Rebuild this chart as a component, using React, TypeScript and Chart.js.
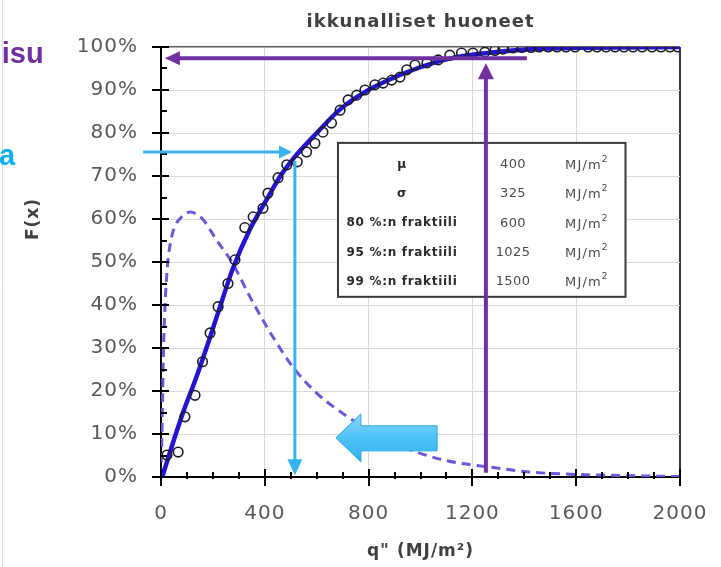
import React, { useEffect, useRef } from 'react';
import { Chart, registerables } from 'chart.js';

Chart.register(...registerables);

// ---------- texts ----------
const TITLE = 'ikkunalliset huoneet';
const X_TITLE = 'q" (MJ/m²)';
const Y_TITLE = 'F(x)';
const SIDE_TEXT_1 = 'nisu';
const SIDE_TEXT_2 = 'a';

// ---------- axes ----------
const xTickValues = [0, 400, 800, 1200, 1600, 2000];
const yTickPercent = [0, 10, 20, 30, 40, 50, 60, 70, 80, 90, 100];

// ---------- data ----------
// empirical points (circles)
const sampleX = [23, 66, 92, 131, 160, 189, 220, 258, 285, 323, 355, 393, 412, 451, 485, 525, 561, 593, 624, 657, 690, 721, 754, 786, 824, 856, 889, 921, 947, 979, 1025, 1068, 1113, 1158, 1202, 1248, 1287, 1318, 1356, 1391, 1426, 1457, 1492, 1526, 1561, 1596, 1646, 1680, 1715, 1750, 1784, 1819, 1854, 1892, 1927, 1961, 1992];
const sampleY = [5.1, 5.8, 14, 19, 26.8, 33.5, 39.6, 45, 50.5, 58, 60.5, 62.5, 66, 69.6, 72.6, 73.3, 75.6, 77.6, 80.2, 82.3, 85.3, 87.7, 88.8, 90, 91.2, 91.6, 92.3, 93, 94.7, 95.8, 96.3, 97, 98.1, 98.6, 98.6, 98.8, 99.2, 99.5, 99.8, 99.9, 99.9, 100, 100, 100, 100, 100, 100, 100, 100, 100, 100, 100, 100, 100, 100, 100, 100];

// fitted cumulative distribution (solid line)
const cdfX = [5, 40, 85, 138, 189, 235, 277, 342, 407, 460, 509, 600, 690, 793, 895, 985, 1113, 1241, 1433, 1600, 2000];
const cdfY = [0, 6.8, 15, 23.5, 32.5, 41, 48.5, 57.5, 64.5, 70, 74, 80, 85.5, 89.8, 92.8, 95, 97.3, 98.5, 99.5, 99.8, 100];

// density (dashed line, scaled)
const pdfX = [0, 3, 6, 9, 14, 20, 28, 46, 80, 112, 160, 215, 273, 342, 407, 431, 508, 600, 700, 800, 900, 985, 1100, 1200, 1280, 1410, 1600, 1800, 2000];
const pdfY = [0, 8, 18, 28, 38, 45, 51, 57, 60.5, 61.6, 60, 55, 50, 42, 35, 32.6, 25.6, 19.5, 14.8, 11, 8, 5.8, 3.8, 2.8, 2.2, 1.2, 0.6, 0.3, 0.1];

// parameter table
const tableLabels = ['μ', 'σ', '80 %:n fraktiili', '95 %:n fraktiili', '99 %:n fraktiili'];
const tableValues = ['400', '325', '600', '1025', '1500'];
const tableUnit = 'MJ/m';
const tableUnitSup = '2';

// ---------- annotation placement (data units) ----------
const TABLE_BOX = { x0: 682, x1: 1790, y0: 0.777, y1: 0.419 };
const CYAN_H = { xFrom: -69, xTo: 505, y: 0.756 };
const CYAN_V = { x: 516, yFrom: 0.735, yTo: 0.004 };
const PURPLE_H = { xFrom: 1410, xTo: 15, y: 0.974 };
const PURPLE_V = { x: 1252, yFrom: 0.01, yTo: 0.962 };
const BLOCK_ARROW = { xTip: 674, xBack: 1064, y: 0.091 };

const X_MINOR_STEP = 100;
const Y_MINOR_STEP = 0.05;

const CYAN = '#36b3f2';
const PURPLE = '#7030a0';

function arrow(ctx: CanvasRenderingContext2D, x1: number, y1: number, x2: number, y2: number, color: string, width: number, headLen: number, headHalf: number) {
  const dx = x2 - x1, dy = y2 - y1;
  const len = Math.hypot(dx, dy);
  const ux = dx / len, uy = dy / len;
  const bx = x2 - ux * headLen, by = y2 - uy * headLen;
  ctx.save();
  ctx.strokeStyle = color;
  ctx.fillStyle = color;
  ctx.lineWidth = width;
  ctx.lineCap = 'butt';
  ctx.beginPath();
  ctx.moveTo(x1, y1);
  ctx.lineTo(bx + ux * 1, by + uy * 1);
  ctx.stroke();
  ctx.beginPath();
  ctx.moveTo(x2, y2);
  ctx.lineTo(bx - uy * headHalf, by + ux * headHalf);
  ctx.lineTo(bx + uy * headHalf, by - ux * headHalf);
  ctx.closePath();
  ctx.fill();
  ctx.restore();
}

const overlay = {
  id: 'overlay',
  beforeDraw(chart: any) {
    (chart.ctx as any).letterSpacing = '1px';
  },
  afterDatasetsDraw(chart: any) {
    const ctx: CanvasRenderingContext2D = chart.ctx;
    const { x, y } = chart.scales;
    const area = chart.chartArea;
    ctx.save();
    (ctx as any).letterSpacing = '0px';

    // axis tick marks (major crossing, minor inward)
    ctx.strokeStyle = '#000';
    ctx.lineWidth = 2;
    ctx.beginPath();
    for (let v = x.min; v <= x.max + 0.001; v += X_MINOR_STEP) {
      const px = Math.round(x.getPixelForValue(v));
      const major = xTickValues.indexOf(v) >= 0;
      ctx.moveTo(px, major ? area.bottom + 9 : area.bottom + 2);
      ctx.lineTo(px, major ? area.bottom - 8 : area.bottom - 5);
    }
    for (let v = y.min; v <= y.max + 0.0001; v += Y_MINOR_STEP) {
      const py = Math.round(y.getPixelForValue(v));
      const major = Math.abs(Math.round(v * 10) - v * 10) < 0.001;
      ctx.moveTo(major ? area.left - 9 : area.left - 1, py);
      ctx.lineTo(major ? area.left + 8 : area.left + 6, py);
    }
    ctx.stroke();

    // parameter table
    const bx0 = x.getPixelForValue(TABLE_BOX.x0);
    const bx1 = x.getPixelForValue(TABLE_BOX.x1);
    const by0 = y.getPixelForValue(TABLE_BOX.y0);
    const by1 = y.getPixelForValue(TABLE_BOX.y1);
    ctx.fillStyle = '#ffffff';
    ctx.fillRect(bx0, by0, bx1 - bx0, by1 - by0);
    ctx.strokeStyle = '#3a3a3a';
    ctx.lineWidth = 2;
    ctx.strokeRect(bx0, by0, bx1 - bx0, by1 - by0);
    const rowH = (by1 - by0) / 5.27;
    ctx.textBaseline = 'middle';
    for (let i = 0; i < tableLabels.length; i++) {
      const ry = by0 + 22 + i * rowH;
      ctx.textAlign = 'center';
      ctx.fillStyle = '#2a2a2a';
      ctx.font = 'bold 12px "DejaVu Sans"';
      (ctx as any).letterSpacing = '0.7px';
      ctx.fillText(tableLabels[i], bx0 + 64, ry);
      ctx.font = '13px "DejaVu Sans"';
      ctx.fillStyle = '#4a4a4a';
      (ctx as any).letterSpacing = '0.4px';
      ctx.fillText(tableValues[i], bx0 + 175, ry);
      ctx.textAlign = 'left';
      ctx.font = '13px "DejaVu Sans"';
      (ctx as any).letterSpacing = '1.2px';
      ctx.fillText(tableUnit, bx0 + 227, ry + 1);
      const w = ctx.measureText(tableUnit).width;
      ctx.font = '9px "DejaVu Sans"';
      (ctx as any).letterSpacing = '0px';
      ctx.fillText(tableUnitSup, bx0 + 227 + w, ry - 5);
    }

    // arrows
    arrow(ctx, x.getPixelForValue(CYAN_H.xFrom), y.getPixelForValue(CYAN_H.y), x.getPixelForValue(CYAN_H.xTo), y.getPixelForValue(CYAN_H.y), CYAN, 3, 13, 6.5);
    arrow(ctx, x.getPixelForValue(CYAN_V.x), y.getPixelForValue(CYAN_V.yFrom), x.getPixelForValue(CYAN_V.x), y.getPixelForValue(CYAN_V.yTo), CYAN, 3, 16, 7.5);
    arrow(ctx, x.getPixelForValue(PURPLE_H.xFrom), y.getPixelForValue(PURPLE_H.y), x.getPixelForValue(PURPLE_H.xTo), y.getPixelForValue(PURPLE_H.y), PURPLE, 4, 15, 7);
    arrow(ctx, x.getPixelForValue(PURPLE_V.x), y.getPixelForValue(PURPLE_V.yFrom), x.getPixelForValue(PURPLE_V.x), y.getPixelForValue(PURPLE_V.yTo), PURPLE, 4, 16, 8);

    // block arrow
    const tx = x.getPixelForValue(BLOCK_ARROW.xTip);
    const tb = x.getPixelForValue(BLOCK_ARROW.xBack);
    const ty = y.getPixelForValue(BLOCK_ARROW.y);
    const headBack = tx + 25;
    const grad = ctx.createLinearGradient(0, ty - 24, 0, ty + 24);
    grad.addColorStop(0, '#8ad8fb');
    grad.addColorStop(0.5, '#4ec3f6');
    grad.addColorStop(1, '#2fb2ef');
    ctx.beginPath();
    ctx.moveTo(tx, ty);
    ctx.lineTo(headBack, ty - 24);
    ctx.lineTo(headBack, ty - 12);
    ctx.lineTo(tb, ty - 12);
    ctx.lineTo(tb, ty + 13);
    ctx.lineTo(headBack, ty + 13);
    ctx.lineTo(headBack, ty + 24);
    ctx.closePath();
    ctx.fillStyle = grad;
    ctx.fill();
    ctx.strokeStyle = '#2aa6e6';
    ctx.lineWidth = 1;
    ctx.stroke();

    ctx.restore();
  },
  afterDraw(chart: any) {
    const ctx: CanvasRenderingContext2D = chart.ctx;
    const area = chart.chartArea;
    ctx.save();
    // slide edge line
    ctx.strokeStyle = '#dcdcdc';
    ctx.lineWidth = 1;
    ctx.beginPath();
    ctx.moveTo(2.5, 0);
    ctx.lineTo(2.5, chart.height);
    ctx.stroke();

    // title
    ctx.fillStyle = '#404040';
    ctx.font = 'bold 18px "DejaVu Sans"';
    (ctx as any).letterSpacing = '1px';
    ctx.textAlign = 'center';
    ctx.textBaseline = 'alphabetic';
    ctx.fillText(TITLE, (area.left + area.right) / 2, 27);

    // y title
    ctx.save();
    ctx.translate(34, 219);
    ctx.rotate(-Math.PI / 2);
    ctx.font = 'bold 17px "DejaVu Sans"';
    (ctx as any).letterSpacing = '1px';
    ctx.textBaseline = 'middle';
    ctx.fillText(Y_TITLE, 0, 0);
    ctx.restore();

    // slide side texts
    (ctx as any).letterSpacing = '0px';
    ctx.textAlign = 'left';
    ctx.font = 'bold 29px "Liberation Sans"';
    ctx.fillStyle = PURPLE;
    ctx.fillText(SIDE_TEXT_1, -16, 63);
    ctx.fillStyle = '#12aef0';
    ctx.fillText(SIDE_TEXT_2, -1, 165);
    ctx.restore();
    (ctx as any).letterSpacing = '0px';
  },
};

export default function App() {
  const ref = useRef<HTMLCanvasElement>(null);
  useEffect(() => {
    if (!ref.current) return;
    const samples = sampleX.map((v, i) => ({ x: v, y: sampleY[i] / 100 }));
    const cdf = cdfX.map((v, i) => ({ x: v, y: cdfY[i] / 100 }));
    const pdf = pdfX.map((v, i) => ({ x: v, y: pdfY[i] / 100 }));
    const chart = new Chart(ref.current, {
      type: 'scatter',
      data: {
        datasets: [
          {
            label: 'havainnot',
            data: samples,
            showLine: false,
            pointRadius: 4.8,
            pointBorderWidth: 1.6,
            pointBorderColor: '#1c1c28',
            pointBackgroundColor: 'rgba(255,255,255,0)',
            pointStyle: 'circle',
          } as any,
          {
            label: 'F(x)',
            data: cdf,
            showLine: true,
            borderColor: '#2414d0',
            borderWidth: 4.5,
            pointRadius: 0,
            cubicInterpolationMode: 'monotone',
          } as any,
          {
            label: 'f(x)',
            data: pdf,
            showLine: true,
            borderColor: '#6c58d6',
            borderWidth: 3,
            borderDash: [9, 6],
            pointRadius: 0,
            cubicInterpolationMode: 'monotone',
          } as any,
        ],
      },
      options: {
        animation: false,
        responsive: false,
        events: [],
        layout: { padding: { left: 0, top: 47, right: 41, bottom: 0 } },
        plugins: {
          legend: { display: false },
          tooltip: { enabled: false },
          title: { display: false },
        },
        scales: {
          x: {
            type: 'linear',
            min: 0,
            max: 2000,
            afterBuildTicks: (s: any) => {
              s.ticks = xTickValues.map((v) => ({ value: v }));
            },
            afterFit: (s: any) => {
              s.height = 90;
              s.paddingLeft = 0;
              s.paddingRight = 0;
            },
            ticks: {
              color: '#595959',
              font: { family: 'DejaVu Sans', size: 20 },
              padding: 25,
              maxRotation: 0,
              callback: (v: any) => String(v),
            },
            grid: {
              drawTicks: false,
              color: (c: any) => (c.tick && c.tick.value === 2000 ? '#3a3a3a' : '#d9d9d9'),
              lineWidth: (c: any) => (c.tick && c.tick.value === 2000 ? 2 : 1),
            },
            border: { display: true, color: '#000', width: 2 },
            title: {
              display: true,
              text: X_TITLE,
              color: '#404040',
              font: { family: 'DejaVu Sans', size: 17, weight: 'bold' },
              padding: { top: 4, bottom: 5 },
            },
          },
          y: {
            type: 'linear',
            min: 0,
            max: 1,
            afterBuildTicks: (s: any) => {
              s.ticks = yTickPercent.map((v) => ({ value: v / 100 }));
            },
            afterFit: (s: any) => {
              s.width = 161;
              s.paddingTop = 0;
              s.paddingBottom = 0;
            },
            ticks: {
              color: '#595959',
              font: { family: 'DejaVu Sans', size: 20 },
              padding: 23,
              callback: (v: any) => Math.round(Number(v) * 100) + '%',
            },
            grid: {
              drawTicks: false,
              color: (c: any) => (c.tick && c.tick.value === 1 ? '#5a5a5a' : '#d9d9d9'),
              lineWidth: (c: any) => (c.tick && c.tick.value === 1 ? 1.5 : 1),
            },
            border: { display: true, color: '#000', width: 2 },
          },
        },
      } as any,
      plugins: [overlay as any],
    });
    return () => chart.destroy();
  }, []);
  return (
    <canvas
      ref={ref}
      width={721}
      height={567}
      style={{ position: 'fixed', left: 0, top: 0, width: 721, height: 567, background: '#fff' }}
    />
  );
}
